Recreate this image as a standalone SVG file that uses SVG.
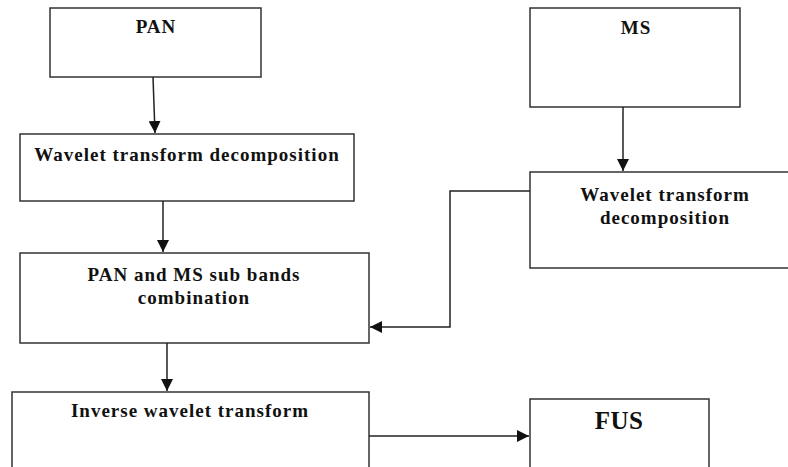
<svg xmlns="http://www.w3.org/2000/svg" width="788" height="467" viewBox="0 0 788 467">
<style>
.box{fill:#fff;stroke:#333;stroke-width:1.5}
.t{font-family:"Liberation Serif","Times New Roman",serif;font-weight:bold;font-size:19px;letter-spacing:1px;fill:#111;text-anchor:middle}
.big{font-size:25px;letter-spacing:0.5px}
.c{fill:none;stroke:#222;stroke-width:1.5}
</style>
<defs>
<marker id="ah" viewBox="0 0 10 10" refX="10" refY="5" markerWidth="12" markerHeight="12" markerUnits="userSpaceOnUse" orient="auto">
<path d="M0,0 L10,5 L0,10 z" fill="#111"/>
</marker>
</defs>
<rect width="788" height="467" fill="#fff"/>
<g id="pan"><rect class="box" x="50" y="8" width="211" height="69"/><text class="t" x="156" y="33">PAN</text></g>
<g id="wt1"><rect class="box" x="20" y="134" width="334" height="67"/><text class="t" x="187" y="161">Wavelet transform decomposition</text></g>
<g id="comb"><rect class="box" x="20" y="253" width="349" height="90"/><text class="t" x="194" y="281">PAN and MS sub bands</text><text class="t" x="194" y="304">combination</text></g>
<g id="inv"><rect class="box" x="12" y="392" width="357" height="90"/><text class="t" x="190" y="417">Inverse wavelet transform</text></g>
<g id="ms"><rect class="box" x="530" y="8" width="210" height="99"/><text class="t" x="636" y="34">MS</text></g>
<g id="wt2"><rect class="box" x="530" y="172" width="270" height="96"/><text class="t" x="665" y="201">Wavelet transform</text><text class="t" x="665" y="224">decomposition</text></g>
<g id="fus"><rect class="box" x="530" y="399" width="179" height="90"/><text class="t big" x="619" y="429">FUS</text></g>
<g id="connectors">
<path class="c" d="M153,77 L155,133" marker-end="url(#ah)"/>
<path class="c" d="M163,201 L163,252" marker-end="url(#ah)"/>
<path class="c" d="M167,343 L167,391" marker-end="url(#ah)"/>
<path class="c" d="M623,107 L623,171" marker-end="url(#ah)"/>
<path class="c" d="M530,191 L450,191 L450,327 L370,327" marker-end="url(#ah)"/>
<path class="c" d="M369,436 L529,436" marker-end="url(#ah)"/>
</g>
</svg>
